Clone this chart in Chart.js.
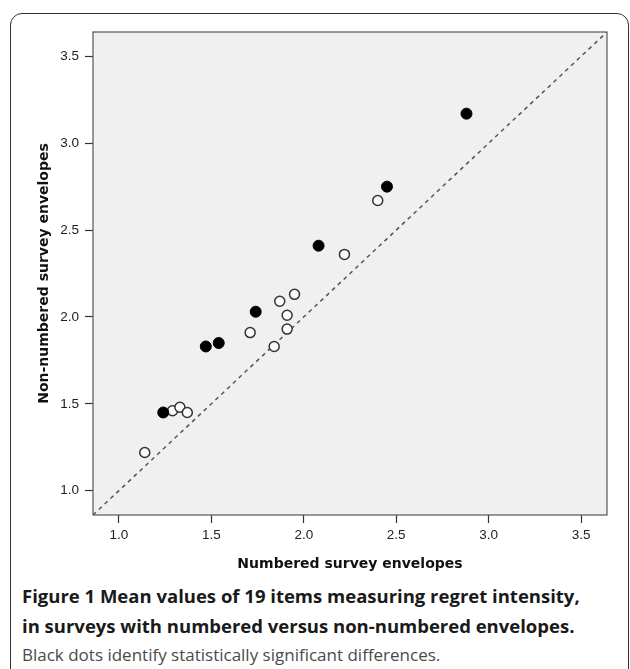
<!DOCTYPE html>
<html lang="en">
<head>
    <meta charset="UTF-8">
    <title>Figure 1 - Regret intensity</title>
    <script src="https://cdn.jsdelivr.net/npm/chart.js@4.4.0/dist/chart.umd.min.js"></script>
    <style>
        html, body { margin: 0; padding: 0; background: #fff; }
        body { width: 630px; height: 669px; position: relative; overflow: hidden; }
        .frame {
            position: absolute; left: 10px; top: 13px;
            width: 617px; height: 700px;
            border: 1.5px solid #333; border-radius: 12px;
        }
        .chart-box { position: absolute; left: 0; top: 0; width: 630px; height: 580px; }
        .caption {
            position: absolute; left: 22px; top: 581px; width: 608px;
            font-family: "Open Sans", sans-serif; line-height: 29.5px;
            color: #1a1a1a;
        }
        .caption .title { font-weight: bold; font-size: 18.5px; }
        .caption .note { color: #4a4a4a; font-size: 17px; }
    </style>
</head>
<body>
    <div class="frame"></div>
    <div class="chart-box"><canvas id="scatter" width="630" height="580"></canvas></div>
    <div class="caption">
        <div class="title">Figure 1 Mean values of 19 items measuring regret intensity,<br>in surveys with numbered versus non-numbered envelopes.</div>
        <div class="note">Black dots identify statistically significant differences.</div>
    </div>

    <script>
        // Significant items (black dots)
        const sigNumbered    = [1.24, 1.47, 1.54, 1.74, 2.08, 2.45, 2.88];
        const sigNonNumbered = [1.45, 1.83, 1.85, 2.03, 2.41, 2.75, 3.17];

        // Non-significant items (open circles)
        const nsNumbered    = [1.14, 1.29, 1.33, 1.37, 1.71, 1.84, 1.91, 1.91, 1.87, 1.95, 2.22, 2.40];
        const nsNonNumbered = [1.22, 1.46, 1.48, 1.45, 1.91, 1.83, 1.93, 2.01, 2.09, 2.13, 2.36, 2.67];

        // Reference line y = x, axis range and ticks
        const axisRange = [0.86, 3.64];
        const tickValues = [1.0, 1.5, 2.0, 2.5, 3.0, 3.5];

        const toPoints = (xs, ys) => xs.map((x, i) => ({ x: x, y: ys[i] }));

        // Plot background + frame
        const plotFrame = {
            id: 'plotFrame',
            beforeDatasetsDraw(chart) {
                const { ctx, chartArea: a } = chart;
                ctx.save();
                ctx.fillStyle = '#f0f0f0';
                ctx.fillRect(a.left, a.top, a.right - a.left, a.bottom - a.top);
                ctx.restore();
            },
            afterDatasetsDraw(chart) {
                const { ctx, chartArea: a } = chart;
                ctx.save();
                ctx.strokeStyle = '#555';
                ctx.lineWidth = 1.2;
                ctx.strokeRect(a.left, a.top, a.right - a.left, a.bottom - a.top);
                ctx.restore();
            }
        };

        const tickFont = { family: 'Liberation Sans, Arial, sans-serif', size: 13.5 };
        const titleFont = { family: 'DejaVu Sans, Verdana, sans-serif', size: 14, weight: 'bold' };

        new Chart(document.getElementById('scatter'), {
            type: 'scatter',
            data: {
                datasets: [
                    {
                        type: 'line',
                        label: 'Equality',
                        data: toPoints(axisRange, axisRange),
                        borderColor: '#555',
                        borderWidth: 1.5,
                        borderDash: [4, 4],
                        pointRadius: 0,
                        fill: false,
                        order: 3
                    },
                    {
                        label: 'Not significant',
                        data: toPoints(nsNumbered, nsNonNumbered),
                        backgroundColor: '#fafafa',
                        borderColor: '#333',
                        borderWidth: 1.5,
                        pointRadius: 5,
                        order: 2
                    },
                    {
                        label: 'Significant',
                        data: toPoints(sigNumbered, sigNonNumbered),
                        backgroundColor: '#000',
                        borderColor: '#000',
                        borderWidth: 1,
                        pointRadius: 5.5,
                        order: 1
                    }
                ]
            },
            options: {
                responsive: false,
                animation: false,
                layout: { padding: { top: 32, right: 23, left: 0, bottom: 0 } },
                plugins: { legend: { display: false }, tooltip: { enabled: false } },
                scales: {
                    x: {
                        type: 'linear',
                        min: axisRange[0],
                        max: axisRange[1],
                        afterBuildTicks: s => { s.ticks = tickValues.map(v => ({ value: v })); },
                        afterFit: s => { s.height = 65; },
                        ticks: {
                            font: tickFont, color: '#222', padding: 4,
                            callback: v => v.toFixed(1)
                        },
                        grid: {
                            drawOnChartArea: false, drawTicks: true,
                            tickLength: 8, color: '#333', tickWidth: 1.2
                        },
                        border: { display: false },
                        title: {
                            display: true, text: 'Numbered survey envelopes',
                            font: titleFont, color: '#111',
                            padding: { top: 8, bottom: 7 }
                        }
                    },
                    y: {
                        type: 'linear',
                        min: axisRange[0],
                        max: axisRange[1],
                        afterBuildTicks: s => { s.ticks = tickValues.map(v => ({ value: v })); },
                        afterFit: s => { s.width = 93; },
                        ticks: {
                            font: tickFont, color: '#222', padding: 6,
                            callback: v => v.toFixed(1)
                        },
                        grid: {
                            drawOnChartArea: false, drawTicks: true,
                            tickLength: 8, color: '#333', tickWidth: 1.2
                        },
                        border: { display: false },
                        title: {
                            display: true, text: 'Non-numbered survey envelopes',
                            font: titleFont, color: '#111',
                            padding: { top: 36, bottom: 0 }
                        }
                    }
                }
            },
            plugins: [plotFrame]
        });
    </script>
</body>
</html>
